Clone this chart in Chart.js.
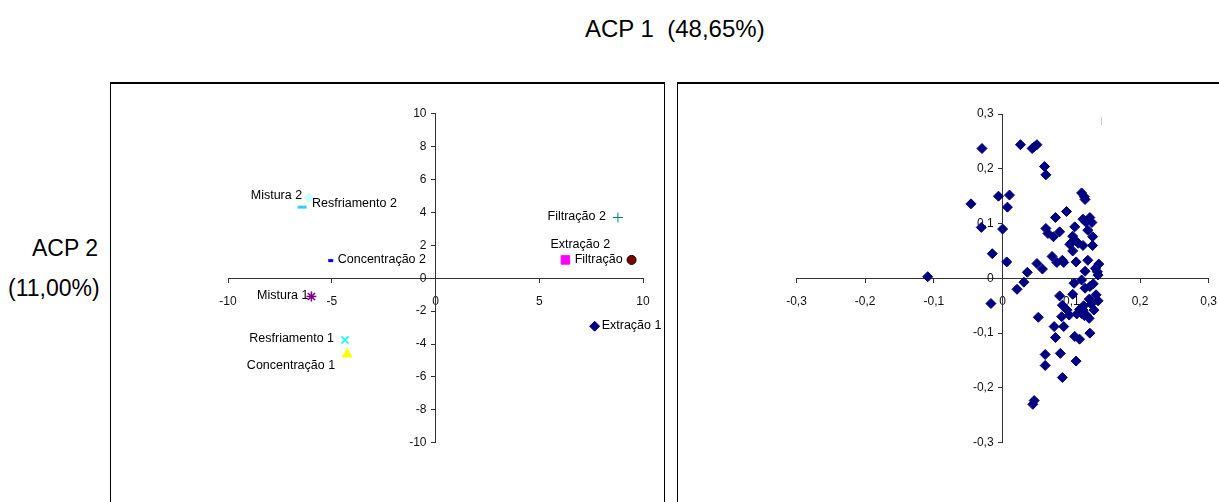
<!DOCTYPE html>
<html lang="pt">
<head>
<meta charset="utf-8">
<title>ACP</title>
<script src="https://cdn.jsdelivr.net/npm/chart.js@4.4.1/dist/chart.umd.min.js"></script>
<style>
  html, body { margin: 0; padding: 0; background: #fff; }
  body { width: 1219px; height: 502px; position: relative; overflow: hidden;
         font-family: "Liberation Sans", Arial, sans-serif; }
  .panel { position: absolute; top: 82px; height: 440px; box-sizing: border-box;
           border-top: 2px solid #000; border-left: 1px solid #000; border-right: 1px solid #000; }
  #panelScores { left: 110px; width: 555px; }
  #panelLoadings { left: 677px; width: 600px; }
  .axisTitle { position: absolute; font-size: 23px; line-height: 26px; color: #000; white-space: pre; }
  canvas { position: absolute; left: 0; top: 0; }
  #mark { position: absolute; left: 1101px; top: 117px; width: 1px; height: 8px; background: #c8c8c8; }
</style>
</head>
<body>
<div class="panel" id="panelScores"></div>
<div class="panel" id="panelLoadings"></div>
<div id="mark"></div>
<div class="axisTitle" style="left:585px; top:16px; font-size:24px;">ACP 1  (48,65%)</div>
<div class="axisTitle" style="left:32px; top:235px;">ACP 2</div>
<div class="axisTitle" style="left:8px; top:275px;">(11,00%)</div>
<canvas id="scores" width="1219" height="502"></canvas>
<canvas id="loadings" width="1219" height="502"></canvas>
<script>
// Process stages (scores on the first two principal components)
const stageNames = ['Extração 1', 'Extração 2', 'Filtração', 'Filtração 2', 'Mistura 1',
                    'Mistura 2', 'Resfriamento 1', 'Resfriamento 2', 'Concentração 1', 'Concentração 2'];
const stageAcp1 = [7.67, 6.26, 9.45, 8.79, -5.98, -6.09, -4.36, -6.43, -4.26, -5.05];
const stageAcp2 = [-2.92, 1.11, 1.11, 3.69, -1.11, 4.88, -3.75, 4.32, -4.62, 1.07];

// Tick values
const scoreTicksX = [-10, -5, 0, 5, 10];
const scoreTicksY = [-10, -8, -6, -4, -2, 0, 2, 4, 6, 8, 10];
const loadingTicksX = [-0.3, -0.2, -0.1, 0, 0.1, 0.2, 0.3];
const loadingTicksY = [-0.3, -0.2, -0.1, 0, 0.1, 0.2, 0.3];

// Variable loadings on ACP 1 / ACP 2
const loadingAcp1 = [
  -0.109, -0.030, -0.046, -0.031, -0.015, -0.017, -0.006, 0.010, 0.007, 0.000,
   0.006,  0.026,  0.043,  0.046,  0.050,  0.061,  0.063, 0.021, 0.031, 0.036,
   0.050,  0.058,  0.052,  0.063,  0.066,  0.074,  0.077, 0.083, 0.072, 0.079,
   0.087,  0.089,  0.093,  0.105,  0.102,  0.100,  0.102, 0.105, 0.107, 0.115,
   0.120,  0.117,  0.121,  0.127,  0.130,  0.124,  0.131, 0.117, 0.131, 0.124,
   0.120,  0.135,  0.140,  0.139,  0.104,  0.115,  0.102, 0.083, 0.087, 0.094,
   0.086,  0.097,  0.108,  0.120,  0.127,  0.132,  0.136, 0.139, 0.126, 0.133,
   0.117,  0.122,  0.126,  0.115,  0.112,  0.075,  0.089, 0.077, 0.105, 0.112,
   0.127,  0.062,  0.062,  0.084,  0.107,  0.087,  0.046, 0.044, 0.138, 0.118,
   0.129,  0.110,  0.098,  0.119,  0.113,  0.119
];
const loadingAcp2 = [
   0.003,  0.237,  0.136,  0.093,  0.045, -0.046,  0.150,  0.152,  0.130,  0.090,
   0.030,  0.244,  0.237,  0.240,  0.244,  0.204,  0.189, -0.020, -0.007,  0.011,
   0.027,  0.017, -0.071,  0.091,  0.082,  0.076,  0.111,  0.085,  0.040,  0.029,
   0.033,  0.029,  0.122,  0.094,  0.077,  0.065,  0.050,  0.070,  0.030,  0.156,
   0.144,  0.108,  0.103,  0.111,  0.102,  0.088,  0.076,  0.060,  0.060,  0.033,
   0.013,  0.018,  0.026,  0.006, -0.009, -0.003, -0.029, -0.032, -0.049, -0.058,
  -0.070, -0.067, -0.065, -0.018, -0.015, -0.010, -0.030, -0.041, -0.038, -0.058,
  -0.058, -0.067, -0.073, -0.064, -0.057, -0.088, -0.088, -0.108, -0.106, -0.111,
  -0.100, -0.139, -0.159, -0.137, -0.151, -0.181, -0.223, -0.230,  0.012, -0.050,
  -0.047,  0.064,  0.062,  0.149, -0.060, -0.068
];

// Marker appearance for each stage
const stageMarkers = [
  { style: 'rectRot',  fill: '#000080', line: '#000080', radius: 5,   width: 1 },
  { style: 'rect',     fill: '#FF00FF', line: '#FF00FF', radius: 6,   width: 1 },
  { style: 'circle',   fill: '#800000', line: '#000000', radius: 4.5, width: 1 },
  { style: 'cross',    fill: '#008080', line: '#008080', radius: 5,   width: 1 },
  { style: 'star',     fill: '#800080', line: '#800080', radius: 5,   width: 1.5 },
  { style: 'rectRot',  fill: '#CCFFFF', line: '#CCFFFF', radius: 5,   width: 1 },
  { style: 'crossRot', fill: '#00FFFF', line: '#00FFFF', radius: 5,   width: 1.5 },
  { style: 'line',     fill: '#33CCFF', line: '#33CCFF', radius: 4.5, width: 3 },
  { style: 'triangle', fill: '#FFFF00', line: '#FFFF00', radius: 5.5, width: 1 },
  { style: 'line',     fill: '#0000FF', line: '#0000FF', radius: 2.5, width: 3 }
];

// Where each stage name sits relative to its marker
const stageLabelPlacement = [
  { align: 'left',  dx: 7,   dy: -1 },
  { align: 'left',  dx: -15, dy: -15 },
  { align: 'right', dx: -9,  dy: 0 },
  { align: 'right', dx: -12, dy: -1 },
  { align: 'right', dx: -3,  dy: -1 },
  { align: 'right', dx: -7,  dy: -2 },
  { align: 'right', dx: -11, dy: -1 },
  { align: 'left',  dx: 10,  dy: -4 },
  { align: 'right', dx: -12, dy: 11 },
  { align: 'left',  dx: 7,   dy: -1 }
];

const FONT = '"Liberation Sans", Arial, sans-serif';
const W = 1219, H = 502;

const fmtComma = v => String(v).replace('.', ',');

// Axis that crosses the other one at zero; it takes no layout room of its own
function crossingAxis(tickValues, labelPad) {
  return {
    type: 'linear',
    position: 'center',
    min: tickValues[0],
    max: tickValues[tickValues.length - 1],
    afterBuildTicks: axis => { axis.ticks = tickValues.map(v => ({ value: v })); },
    afterFit: axis => {
      if (axis.isHorizontal()) axis.height = 0; else axis.width = 0;
      axis.paddingLeft = axis.paddingRight = axis.paddingTop = axis.paddingBottom = 0;
    },
    grid: { drawOnChartArea: false, drawTicks: true, tickLength: 4, color: '#333', lineWidth: 1 },
    border: { display: true, color: '#333', width: 1 },
    ticks: {
      autoSkip: false, maxRotation: 0, minRotation: 0, padding: labelPad,
      color: '#111', font: { family: FONT, size: 12 },
      callback: v => fmtComma(v)
    }
  };
}

const stageLabels = {
  id: 'stageLabels',
  afterDatasetsDraw(chart) {
    const ctx = chart.ctx;
    ctx.save();
    ctx.font = '12.5px ' + FONT;
    ctx.fillStyle = '#000';
    ctx.textBaseline = 'middle';
    chart.data.datasets.forEach((ds, i) => {
      const pt = chart.getDatasetMeta(i).data[0];
      const p = stageLabelPlacement[i];
      ctx.textAlign = p.align;
      ctx.fillText(ds.label, pt.x + p.dx, pt.y + p.dy);
    });
    ctx.restore();
  }
};

const baseOptions = (padding) => ({
  responsive: false,
  animation: false,
  devicePixelRatio: 1,
  events: [],
  layout: { autoPadding: false, padding },
  plugins: { legend: { display: false }, tooltip: { enabled: false } }
});

// Scores chart
const scoreDatasets = stageNames.map((name, i) => ({
  label: name,
  data: [{ x: stageAcp1[i], y: stageAcp2[i] }],
  pointStyle: stageMarkers[i].style,
  pointRadius: stageMarkers[i].radius,
  pointBackgroundColor: stageMarkers[i].fill,
  pointBorderColor: stageMarkers[i].line,
  pointBorderWidth: stageMarkers[i].width,
  clip: false
}));

new Chart(document.getElementById('scores'), {
  type: 'scatter',
  data: { datasets: scoreDatasets },
  options: Object.assign(baseOptions({ left: 228, right: W - 643, top: 113.7, bottom: H - 442.7 }), {
    scales: { x: crossingAxis(scoreTicksX, 12), y: crossingAxis(scoreTicksY, 5) }
  }),
  plugins: [stageLabels]
});

// Loadings chart
new Chart(document.getElementById('loadings'), {
  type: 'scatter',
  data: {
    datasets: [{
      label: 'Variáveis',
      data: loadingAcp1.map((x, i) => ({ x, y: loadingAcp2[i] })),
      pointStyle: 'rectRot',
      pointRadius: 5,
      pointBackgroundColor: '#000080',
      pointBorderColor: '#000080',
      pointBorderWidth: 1,
      clip: false
    }]
  },
  options: Object.assign(baseOptions({ left: 796.5, right: W - 1208.7, top: 114, bottom: H - 442.7 }), {
    scales: { x: crossingAxis(loadingTicksX, 12), y: crossingAxis(loadingTicksY, 5) }
  })
});
</script>
</body>
</html>
